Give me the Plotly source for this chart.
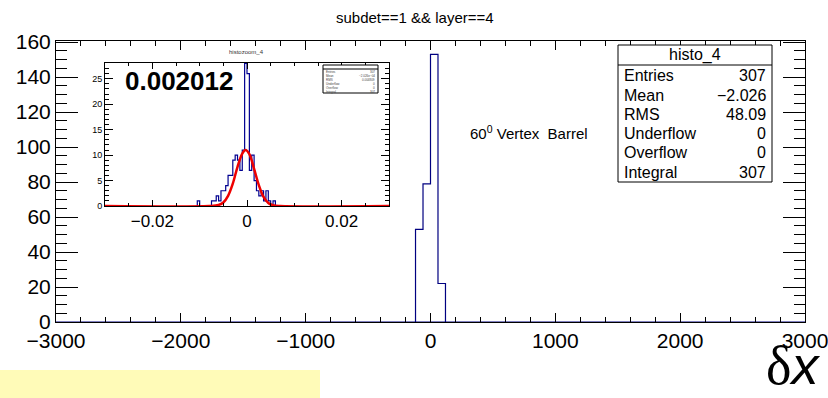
import plotly.graph_objects as go

W, H = 828, 398

# ---------------- data ----------------
# main histogram (histo_4): bin edges and counts
main_edges = [-120, -60, 0, 60, 120]
main_counts = [53, 79, 153, 22]

# inset histogram (histozoom_4): bin edges and counts (bin width 0.0005)
zoom_edges = [-0.0105, -0.0100, -0.0095, -0.0090, -0.0085, -0.0080, -0.0075, -0.0070,
              -0.0065, -0.0060, -0.0055, -0.0050, -0.0045, -0.0040, -0.0035, -0.0030,
              -0.0025, -0.0020, -0.0015, -0.0010, -0.0005, 0.0000, 0.0005, 0.0010,
              0.0015, 0.0020, 0.0025, 0.0030, 0.0035, 0.0040, 0.0045, 0.0050,
              0.0055, 0.0060, 0.0065, 0.0070, 0.0075]
zoom_counts = [1, 0, 0, 0, 0, 0, 1, 1,
               2, 1, 3, 3, 4, 6, 6, 9,
               10, 9, 7, 11, 28, 26, 7, 10,
               5, 3, 2, 3, 1, 3, 1, 0,
               1, 0, 0, 0]

# gaussian fit curve points
fit_x = [-0.030, -0.008, -0.006, -0.005, -0.004, -0.003, -0.002, -0.001, -0.0003,
         0.0005, 0.0015, 0.0025, 0.0035, 0.0045, 0.0055, 0.007, 0.030]
fit_y = [0.0, 0.0, 0.2, 0.7, 2.0, 4.4, 7.7, 10.3, 11.0,
         10.2, 7.3, 4.1, 1.8, 0.6, 0.16, 0.0, 0.0]

stats_labels = ["Entries", "Mean", "RMS", "Underflow", "Overflow", "Integral"]
stats_values = ["307", "\u22122.026", "48.09", "0", "0", "307"]

main_xticks = [-3000, -2000, -1000, 0, 1000, 2000, 3000]
main_yticks = [0, 20, 40, 60, 80, 100, 120, 140, 160]
zoom_xticks = [-0.02, 0, 0.02]
zoom_yticks = [0, 5, 10, 15, 20, 25]


def step_xy(edges, counts):
    xs = [edges[0]] + list(edges[:-1]) + [edges[-1]]
    ys = [0] + list(counts) + [0]
    return xs, ys


def px(x):
    return x / W


def py(y):
    return 1 - y / H


fig = go.Figure()

mx, my = step_xy(main_edges, main_counts)
fig.add_trace(go.Scatter(x=[-3000, 3000], y=[0, 0], mode="lines",
                         line=dict(color="#000080", width=1), hoverinfo="skip",
                         xaxis="x", yaxis="y"))
fig.add_trace(go.Scatter(x=mx, y=my, mode="lines", line_shape="hv",
                         line=dict(color="#000080", width=1.2),
                         xaxis="x", yaxis="y"))

zx, zy = step_xy(zoom_edges, zoom_counts)
fig.add_trace(go.Scatter(x=zx, y=zy, mode="lines", line_shape="hv",
                         line=dict(color="#000090", width=1.2),
                         xaxis="x2", yaxis="y2"))
fig.add_trace(go.Scatter(x=fit_x, y=fit_y, mode="lines", line_shape="spline",
                         line=dict(color="#ee0000", width=2.5),
                         xaxis="x2", yaxis="y2"))

# main frame (pixels)
L, R, T, B = 56, 805, 41, 322
# inset frame
iL, iR, iT, iB = 105, 389, 63, 206

font = "Liberation Sans, Arial, sans-serif"

axis_common = dict(showline=True, linecolor="black", linewidth=1, mirror="ticks",
                   ticks="inside", tickcolor="black", showgrid=False, zeroline=False,
                   fixedrange=True, automargin=False, ticklabeloverflow="allow")

fig.update_layout(
    width=W, height=H,
    margin=dict(l=0, r=0, t=0, b=0, autoexpand=False),
    paper_bgcolor="white", plot_bgcolor="white",
    showlegend=False,
    xaxis=dict(domain=[px(L), px(R)], range=[-3000, 3000], tickvals=main_xticks,
               ticktext=[("\u2212" + str(-v)) if v < 0 else str(v) for v in main_xticks],
               ticklen=9, tickwidth=1,
               minor=dict(dtick=200, tick0=0, ticklen=5, ticks="inside", tickcolor="black"),
               tickfont=dict(family=font, size=21, color="black"), **axis_common),
    yaxis=dict(domain=[py(B), py(T)], range=[0, 160.65], tickvals=main_yticks,
               ticklen=22, tickwidth=1,
               minor=dict(dtick=5, tick0=0, ticklen=11, ticks="inside", tickcolor="black"),
               tickfont=dict(family=font, size=21, color="black"), **axis_common),
    xaxis2=dict(domain=[px(iL), px(iR)], range=[-0.03, 0.03], anchor="y2",
                tickvals=zoom_xticks, ticktext=["\u22120.02", "0", "0.02"],
                ticklen=6, minor=dict(dtick=0.005, tick0=0, ticklen=3, ticks="inside",
                                      tickcolor="black"),
                tickfont=dict(family=font, size=17, color="black"), **axis_common),
    yaxis2=dict(domain=[py(iB), py(iT)], range=[0, 28.1], anchor="x2",
                tickvals=zoom_yticks, ticklen=8,
                minor=dict(dtick=1, tick0=0, ticklen=4, ticks="inside", tickcolor="black"),
                tickfont=dict(family=font, size=9, color="black"), **axis_common),
)

shapes = []
annotations = []

# inset white background
shapes.append(dict(type="rect", xref="paper", yref="paper", x0=px(iL - 2), x1=px(iR + 2),
                   y0=py(iB + 2), y1=py(iT - 14), fillcolor="white", line=dict(width=0),
                   layer="below"))

# yellow box bottom-left
shapes.append(dict(type="rect", xref="paper", yref="paper", x0=0, x1=px(320),
                   y0=0, y1=py(370), fillcolor="#fffbb8", line=dict(width=0)))

# main stats box
sL, sR, sT, sHd, sB = 618, 772, 45, 65, 182
shapes.append(dict(type="rect", xref="paper", yref="paper", x0=px(sL), x1=px(sR),
                   y0=py(sB), y1=py(sT), fillcolor="white", line=dict(color="black", width=1)))
shapes.append(dict(type="line", xref="paper", yref="paper", x0=px(sL), x1=px(sR),
                   y0=py(sHd), y1=py(sHd), line=dict(color="black", width=1)))
annotations.append(dict(text="histo_4", x=px((sL + sR) / 2), y=py(55), xref="paper", yref="paper",
                        showarrow=False, xanchor="center", yanchor="middle",
                        font=dict(family=font, size=16, color="black")))
for i, (lab, val) in enumerate(zip(stats_labels, stats_values)):
    yy = 76 + i * 19.2
    annotations.append(dict(text=lab, x=px(sL + 4), y=py(yy), xref="paper", yref="paper",
                            showarrow=False, xanchor="left", yanchor="middle",
                            font=dict(family=font, size=16, color="black")))
    annotations.append(dict(text=val, x=px(sR - 4), y=py(yy), xref="paper", yref="paper",
                            showarrow=False, xanchor="right", yanchor="middle",
                            font=dict(family=font, size=16, color="black")))

# inset tiny stats box
tL, tR, tT, tHd, tB = 323, 378, 65, 69, 93
shapes.append(dict(type="rect", xref="paper", yref="paper", x0=px(tL), x1=px(tR),
                   y0=py(tB), y1=py(tT), fillcolor="white", line=dict(color="black", width=1)))
shapes.append(dict(type="line", xref="paper", yref="paper", x0=px(tL), x1=px(tR),
                   y0=py(tHd), y1=py(tHd), line=dict(color="black", width=1)))
tiny_vals = ["307", "\u22122.026e\u221204", "0.004809", "0", "0", "307"]
for i, (lab, val) in enumerate(zip(stats_labels, tiny_vals)):
    yy = 72 + i * 3.9
    annotations.append(dict(text=lab, x=px(tL + 1), y=py(yy), xref="paper", yref="paper",
                            showarrow=False, xanchor="left", yanchor="middle",
                            font=dict(family=font, size=3, color="#444")))
    annotations.append(dict(text=val, x=px(tR - 1), y=py(yy), xref="paper", yref="paper",
                            showarrow=False, xanchor="right", yanchor="middle",
                            font=dict(family=font, size=3, color="#444")))

# texts
annotations.append(dict(text="subdet==1 && layer==4", x=px(415), y=py(18), xref="paper",
                        yref="paper", showarrow=False, xanchor="center", yanchor="middle",
                        font=dict(family=font, size=15, color="black")))
annotations.append(dict(text="60<sup>0</sup> Vertex\u00a0\u00a0Barrel", x=px(468), y=py(132),
                        xref="paper", yref="paper", showarrow=False, xanchor="left",
                        yanchor="middle", font=dict(family=font, size=15, color="black")))
annotations.append(dict(text="<b>0.002012</b>", x=px(123), y=py(81), xref="paper", yref="paper",
                        showarrow=False, xanchor="left", yanchor="middle",
                        font=dict(family=font, size=26, color="black")))
annotations.append(dict(text="histozoom_4", x=px(246), y=py(52), xref="paper", yref="paper",
                        showarrow=False, xanchor="center", yanchor="middle",
                        font=dict(family=font, size=6, color="#333")))
annotations.append(dict(text="\u03b4<span style=\"font-family:Liberation Sans\"><i>x</i></span>",
                        x=px(822), y=py(365), xref="paper", yref="paper",
                        showarrow=False, xanchor="right", yanchor="middle",
                        font=dict(family="Liberation Serif, serif", size=54, color="black")))

fig.update_layout(shapes=shapes, annotations=annotations)
fig.write_html("out.html", config={"displayModeBar": False, "staticPlot": True},
               post_script="document.body.style.margin='0';document.body.style.overflow='hidden';")
